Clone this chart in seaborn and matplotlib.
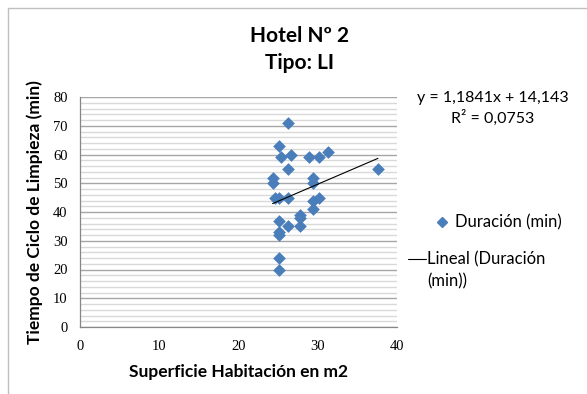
import matplotlib
matplotlib.use("Agg")
import matplotlib.pyplot as plt
from matplotlib.lines import Line2D
from matplotlib.ticker import MultipleLocator
import numpy as np
import pandas as pd
import seaborn as sns

# Room surface (m2) and cleaning cycle duration (min) for Hotel Nº 2, type LI
surface_m2 = [26.3, 25.15, 25.4, 26.6, 28.9, 30.2, 31.3, 26.3, 24.3, 24.3,
              29.4, 29.4, 24.6, 25.15, 26.3, 29.4, 30.2, 29.4, 27.8, 27.8,
              25.15, 26.3, 27.8, 25.15, 25.15, 25.15, 25.15, 37.6]
duration_min = [71, 63, 59, 60, 59, 59, 61, 55, 52, 50,
                52, 50, 45, 45, 45, 44, 45, 41, 39, 38,
                37, 35, 35, 33, 32, 24, 20, 55]

# Linear trend line coefficients as reported on the chart
slope = 1.1841
intercept = 14.143
r_squared = 0.0753

x_ticks = [0, 10, 20, 30, 40]
y_ticks = [0, 10, 20, 30, 40, 50, 60, 70, 80]

series_label = "Duración (min)"
trend_label_lines = ["Lineal (Duración", "(min))"]

df = pd.DataFrame({"surface": surface_m2, "duration": duration_min})

sns.set_theme(style="white")
plt.rcParams["font.family"] = ["Lato", "DejaVu Sans"]

W, H = 587, 394
fig = plt.figure(figsize=(W / 100, H / 100), dpi=100)
ax = fig.add_axes([80 / W, 1 - 327 / H, 317 / W, 230 / H])


def fx(px):
    return px / W


def fy(py):
    return 1 - py / H


blue = "#4a7ebb"
sns.scatterplot(data=df, x="surface", y="duration", ax=ax, marker="D",
                s=42, color=blue, edgecolor=blue, linewidth=0, zorder=3)

x_fit = np.array([min(surface_m2), max(surface_m2)])
ax.plot(x_fit, slope * x_fit + intercept, color="#000000", linewidth=0.8, zorder=4)

ax.set_xlim(x_ticks[0], x_ticks[-1])
ax.set_ylim(y_ticks[0], y_ticks[-1])
ax.set_xticks(x_ticks)
ax.set_yticks(y_ticks)
ax.yaxis.set_minor_locator(MultipleLocator(2))
ax.grid(which="major", axis="y", color="#a6a6a6", linewidth=1.0, zorder=0)
ax.grid(which="minor", axis="y", color="#d9d9d9", linewidth=1.0, zorder=0)
ax.set_axisbelow(True)

for side in ("top", "right"):
    ax.spines[side].set_visible(False)
for side in ("left", "bottom"):
    ax.spines[side].set_color("#868686")
    ax.spines[side].set_linewidth(0.9)

ax.tick_params(axis="both", which="major", direction="out", length=4,
               width=0.9, color="#868686", labelsize=10.5, pad=5)
ax.tick_params(axis="y", which="minor", length=0)
for lbl in ax.get_xticklabels() + ax.get_yticklabels():
    lbl.set_fontfamily(["Liberation Serif", "DejaVu Serif"])
    lbl.set_color("#000000")

ax.set_xlabel("Superficie Habitación en m2", fontsize=12.5, fontweight="bold",
              color="#000000", labelpad=8)
ax.set_ylabel("Tiempo de Ciclo de Limpieza (min)", fontsize=12.5,
              fontweight="bold", color="#000000", labelpad=7)

fig.text(fx(300), fy(36), "Hotel Nº 2", ha="center", va="center",
         fontsize=15, fontweight="bold", color="#000000")
fig.text(fx(300), fy(63), "Tipo: LI", ha="center", va="center",
         fontsize=15, fontweight="bold", color="#000000")

eq = f"y = {slope:.4f}x + {intercept:.3f}".replace(".", ",")
r2 = f"R² = {r_squared:.4f}".replace(".", ",")
fig.text(fx(493), fy(98), eq, ha="center", va="center",
         fontsize=11.5, color="#000000")
fig.text(fx(493), fy(118), r2, ha="center", va="center",
         fontsize=11.5, color="#000000")

# legend: series marker entry (centred above the wider trend entry)
fig.add_artist(Line2D([fx(442)], [fy(222)], transform=fig.transFigure,
                      marker="D", linestyle="none", markersize=5.5,
                      markerfacecolor=blue, markeredgecolor=blue))
fig.text(fx(455), fy(222), series_label, ha="left", va="center",
         fontsize=12, color="#000000")
# legend: trend line entry
fig.add_artist(Line2D([fx(408), fx(426)], [fy(259), fy(259)],
                      transform=fig.transFigure, color="#000000", linewidth=0.8))
fig.text(fx(427), fy(259), trend_label_lines[0], ha="left", va="center",
         fontsize=12, color="#000000")
fig.text(fx(427), fy(281), trend_label_lines[1], ha="left", va="center",
         fontsize=12, color="#000000")

# chart area outline
fig.add_artist(Line2D([fx(8), fx(8)], [0, fy(8)],
                      transform=fig.transFigure, color="#bfbfbf", linewidth=1))
fig.add_artist(Line2D([fx(8), 1], [fy(8), fy(8)],
                      transform=fig.transFigure, color="#bfbfbf", linewidth=1))

fig.savefig("out.png", dpi=100, facecolor="white")
